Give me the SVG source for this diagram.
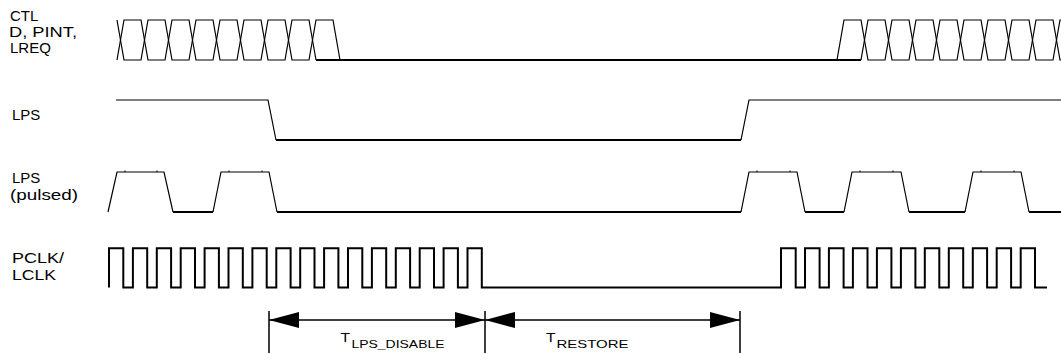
<svg xmlns="http://www.w3.org/2000/svg" width="1061" height="354" viewBox="0 0 1061 354">
<style>
  .lbl { font-family: "Liberation Sans", Arial, sans-serif; font-size: 15px; fill: #000; }
  .sub { font-family: "Liberation Sans", Arial, sans-serif; fill: #000; }
  .w { fill: none; stroke: #000; stroke-width: 1.2; stroke-linejoin: miter; }
  .wt { fill: none; stroke: #000; stroke-width: 2; }
  .clk { fill: none; stroke: #000; stroke-width: 2; stroke-linejoin: miter; }
  .tick { stroke: #000; stroke-width: 1; }
  .dim { stroke: #000; stroke-width: 1.5; fill: none; }
</style>
<defs>
  <marker id="ah" viewBox="0 0 30 16" refX="30" refY="8" markerWidth="30" markerHeight="16" markerUnits="userSpaceOnUse" orient="auto-start-reverse">
    <path d="M0,0 L30,8 L0,16 Z" fill="#000"/>
  </marker>
</defs>
<rect width="1061" height="354" fill="#fff"/>

<g id="labels">
  <text class="lbl" x="10" y="21">CTL</text>
  <text class="lbl" x="9" y="37" textLength="68" lengthAdjust="spacingAndGlyphs">D, PINT,</text>
  <text class="lbl" x="10" y="53">LREQ</text>
  <text class="lbl" x="12" y="120">LPS</text>
  <text class="lbl" x="12" y="183">LPS</text>
  <text class="lbl" x="10" y="200" textLength="68" lengthAdjust="spacingAndGlyphs">(pulsed)</text>
  <text class="lbl" x="12" y="263" textLength="52" lengthAdjust="spacingAndGlyphs">PCLK/</text>
  <text class="lbl" x="12" y="280" textLength="44" lengthAdjust="spacingAndGlyphs">LCLK</text>
</g>

<g id="ctl">
  <path class="w" d="M117,20 L124,60 H141 L148,20 H165 L172,60 H189 L196,20 H213 L220,60 H237 L244,20 H261 L268,60 H285 L292,20 H309 L316,60"/>
  <path class="w" d="M117,60 L124,20 H141 L148,60 H165 L172,20 H189 L196,60 H213 L220,20 H237 L244,60 H261 L268,20 H285 L292,60 H309 L316,20 H333 L340,60"/>
  <path class="wt" d="M316,60 H861"/>
  <path class="w" d="M837,60 L844,20 H861 L868,60 H885 L892,20 H909 L916,60 H933 L940,20 H957 L964,60 H981 L988,20 H1005 L1012,60 H1029 L1036,20 H1053 L1060,60 H1061"/>
  <path class="w" d="M861,60 L868,20 H885 L892,60 H909 L916,20 H933 L940,60 H957 L964,20 H981 L988,60 H1005 L1012,20 H1029 L1036,60 H1053 L1060,20 H1061"/>
</g>

<g id="lps">
  <path class="w" d="M116,100 H268 L276,140"/>
  <path class="wt" d="M276,140 H741"/>
  <path class="w" d="M741,140 L749,100 H1061"/>
</g>

<g id="lps-pulsed">
  <path class="w" d="M108,212 L117,172 H164 L173,212"/>
  <path class="wt" d="M173,212 H213"/>
  <path class="w" d="M213,212 L221,172 H269 L277,212"/>
  <path class="wt" d="M277,212 H741"/>
  <path class="w" d="M741,212 L749,172 H797 L805,212"/>
  <path class="wt" d="M805,212 H844"/>
  <path class="w" d="M844,212 L852,172 H901 L909,212"/>
  <path class="wt" d="M909,212 H965"/>
  <path class="w" d="M965,212 L973,172 H1021 L1029,212"/>
  <path class="wt" d="M1029,212 H1061"/>
  <path class="tick" d="M125,170.5 V172 M157,170.5 V172 M229,170.5 V172 M262,170.5 V172 M757,170.5 V172 M790,170.5 V172 M860,170.5 V172 M893,170.5 V172 M981,170.5 V172 M1014,170.5 V172"/>
</g>

<g id="pclk">
  <path class="clk" d="M109,287.5 V248.3 H123.3 V287.5 H132.9 V248.3 H147.2 V287.5 H156.8 V248.3 H171.1 V287.5 H180.7 V248.3 H195 V287.5 H204.6 V248.3 H218.9 V287.5 H228.5 V248.3 H242.8 V287.5 H252.4 V248.3 H266.7 V287.5 H276.3 V248.3 H290.6 V287.5 H300.2 V248.3 H314.5 V287.5 H324.1 V248.3 H338.4 V287.5 H348 V248.3 H362.3 V287.5 H371.9 V248.3 H386.2 V287.5 H395.8 V248.3 H410.1 V287.5 H419.7 V248.3 H434 V287.5 H443.6 V248.3 H457.9 V287.5 H467.5 V248.3 H481.8 V287.5 H781 V248.3 H795.7 V287.5 H805 V248.3 H819.6 V287.5 H828.9 V248.3 H843.6 V287.5 H852.9 V248.3 H867.5 V287.5 H876.9 V248.3 H891.4 V287.5 H900.9 V248.3 H915.4 V287.5 H924.8 V248.3 H939.3 V287.5 H948.8 V248.3 H963.2 V287.5 H972.8 V248.3 H987.1 V287.5 H996.7 V248.3 H1011.1 V287.5 H1020.7 V248.3 H1035 V287.5 H1047"/>
</g>

<g id="connectors">
  <path class="dim" d="M269,311 V353 M485,311 V353 M740,311 V353"/>
  <path class="dim" d="M269,320 H485" marker-start="url(#ah)" marker-end="url(#ah)"/>
  <path class="dim" d="M485,320 H740" marker-start="url(#ah)" marker-end="url(#ah)"/>
</g>

<g id="dim-labels">
  <text class="sub" x="340.5" y="341.5" font-size="13.5" textLength="9.5" lengthAdjust="spacingAndGlyphs">T</text>
  <text class="sub" x="351.5" y="347.5" font-size="11" textLength="93" lengthAdjust="spacingAndGlyphs">LPS_DISABLE</text>
  <text class="sub" x="546" y="341.5" font-size="13.5" textLength="9.5" lengthAdjust="spacingAndGlyphs">T</text>
  <text class="sub" x="556.5" y="347.5" font-size="11" textLength="72" lengthAdjust="spacingAndGlyphs">RESTORE</text>
</g>
</svg>
